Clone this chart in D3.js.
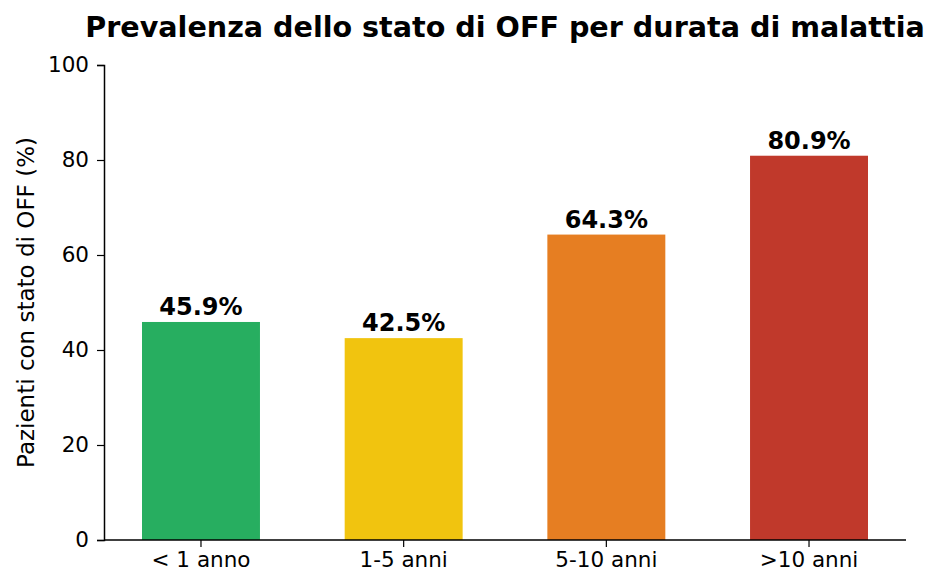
<!DOCTYPE html>
<html>
<head>
<meta charset="utf-8">
<script src="https://cdn.jsdelivr.net/npm/d3@7"></script>
<style>
  body { margin: 0; background: #fff; }
  svg { font-family: "DejaVu Sans", sans-serif; }
</style>
</head>
<body>
<div id="chart-area"></div>
<script>
// data
let categories = ["< 1 anno", "1-5 anni", "5-10 anni", ">10 anni"];
let values = [45.9, 42.5, 64.3, 80.9];
let colors = ["#27ae60", "#f1c40f", "#e67e22", "#c0392b"];
let yTicks = [0, 20, 40, 60, 80, 100];

let w = 930;
let h = 573;
let m = {left: 104, right: 24, top: 65, bottom: 33};

let svg = d3.select("#chart-area")
    .append("svg")
    .attr("width", w)
    .attr("height", h);

// x band scale
let x = d3.scaleBand()
    .domain(categories)
    .range([m.left, w - m.right])
    .paddingInner(0.418)
    .paddingOuter(0.1875);

// y linear scale
let y = d3.scaleLinear()
    .domain([0, 100])
    .range([h - m.bottom, m.top]);

// bars
svg.selectAll("rect.bar")
    .data(values)
    .enter()
    .append("rect")
      .attr("class", "bar")
      .attr("x", function(d, i) { return x(categories[i]); })
      .attr("y", function(d) { return y(d); })
      .attr("width", x.bandwidth())
      .attr("height", function(d) { return y(0) - y(d); })
      .attr("fill", function(d, i) { return colors[i]; });

// value labels
svg.selectAll("text.val")
    .data(values)
    .enter()
    .append("text")
      .attr("class", "val")
      .text(function(d) { return d.toFixed(1) + "%"; })
      .attr("x", function(d, i) { return x(categories[i]) + x.bandwidth() / 2; })
      .attr("y", function(d) { return y(d) - 7; })
      .attr("text-anchor", "middle")
      .attr("font-size", 24)
      .attr("font-weight", "bold")
      .attr("fill", "#000");

// axes
let xAxis = svg.append("g")
    .attr("transform", "translate(0," + y(0) + ")")
    .call(d3.axisBottom(x).tickSizeOuter(0).tickSize(7).tickPadding(5));

let yAxis = svg.append("g")
    .attr("transform", "translate(" + m.left + ",0)")
    .call(d3.axisLeft(y).tickValues(yTicks).tickSizeOuter(0).tickSize(7).tickPadding(8));

[xAxis, yAxis].forEach(function(g) {
  g.selectAll("text").attr("font-size", 21.5).attr("font-family", "DejaVu Sans").attr("fill", "#000");
  g.selectAll("line").attr("stroke", "#000").attr("stroke-width", 1.2);
  g.select(".domain").attr("stroke", "#000").attr("stroke-width", 1.5);
});

// x axis line across the full width
xAxis.select(".domain").attr("d", "M" + m.left + ",0H" + (w - m.right));

// y axis title
svg.append("text")
    .text("Pazienti con stato di OFF (%)")
    .attr("transform", "translate(34," + ((y(0) + y(100)) / 2) + ") rotate(-90)")
    .attr("text-anchor", "middle")
    .attr("font-size", 23)
    .attr("font-family", "DejaVu Sans")
    .attr("fill", "#000");

// chart title
svg.append("text")
    .text("Prevalenza dello stato di OFF per durata di malattia")
    .attr("x", 505)
    .attr("y", 37)
    .attr("text-anchor", "middle")
    .attr("font-size", 28.6)
    .attr("font-weight", "bold")
    .attr("font-family", "DejaVu Sans")
    .attr("fill", "#000");
</script>
</body>
</html>
